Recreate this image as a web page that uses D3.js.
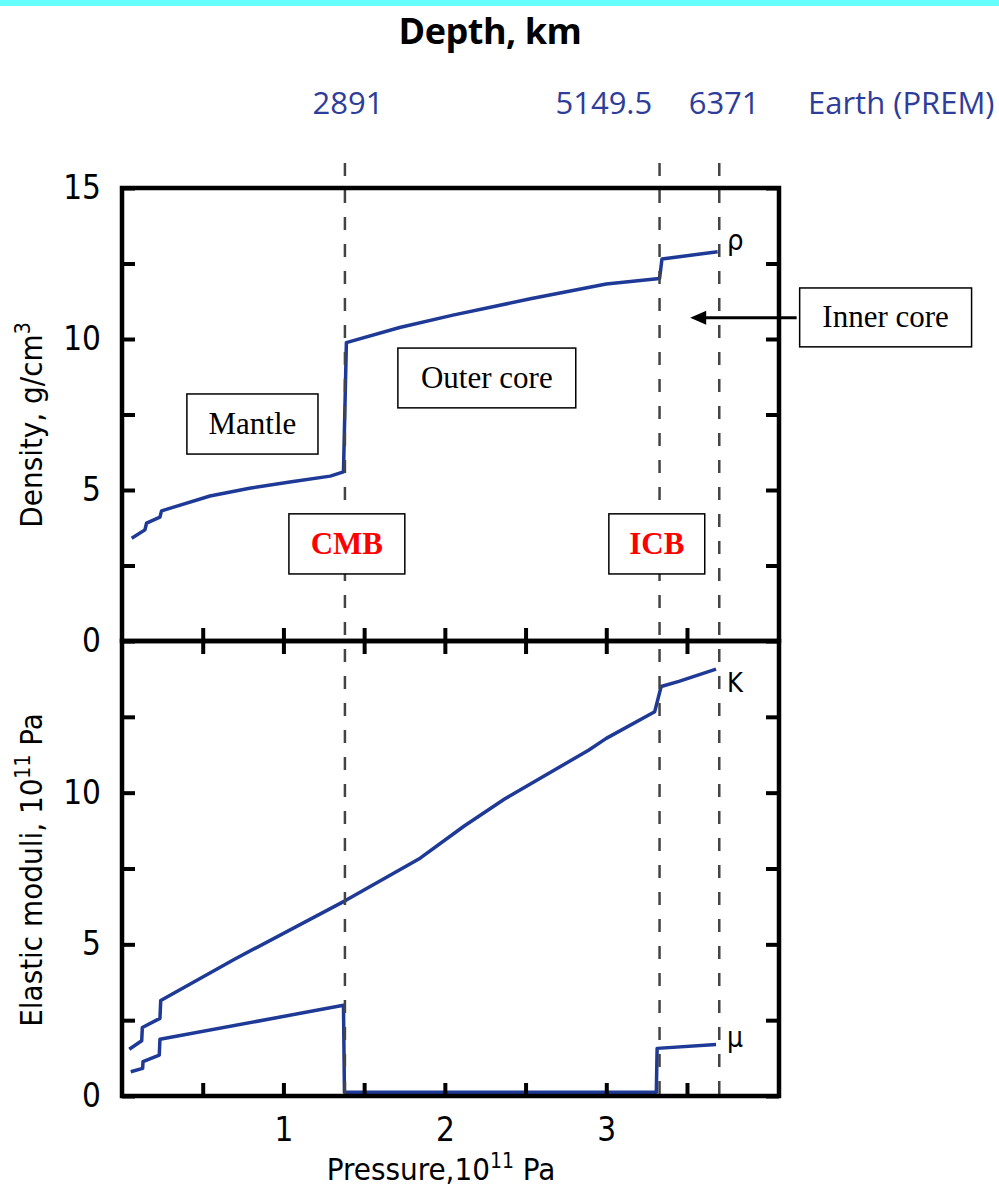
<!DOCTYPE html>
<html>
<head>
<meta charset="utf-8">
<script src="https://cdn.jsdelivr.net/npm/d3@7"></script>
<style>
  html, body { margin: 0; padding: 0; background: #fff; }
  svg { display: block; }
</style>
</head>
<body>
<div id="chart"></div>
<script>
// ---------------- DATA ----------------
// Density (g/cm3) vs pressure (1e11 Pa)
const densityP = [0.06, 0.142, 0.152, 0.235, 0.245, 0.30, 0.545, 0.79, 1.05, 1.29, 1.372, 1.39, 1.72, 2.05, 2.53, 3.0, 3.33, 3.345, 3.69];
const densityV = [3.40, 3.68, 3.90, 4.10, 4.31, 4.40, 4.80, 5.06, 5.27, 5.46, 5.60, 9.88, 10.38, 10.79, 11.33, 11.82, 12.00, 12.65, 12.89];
// Bulk modulus K (1e11 Pa)
const kP = [0.045, 0.122, 0.126, 0.235, 0.240, 0.697, 1.387, 1.847, 2.12, 2.37, 2.89, 3.0, 3.30, 3.34, 3.45, 3.68];
const kV = [1.54, 1.82, 2.26, 2.56, 3.15, 4.51, 6.45, 7.84, 8.90, 9.79, 11.40, 11.79, 12.67, 13.50, 13.67, 14.07];
// Shear modulus mu (1e11 Pa)
const muP = [0.054, 0.128, 0.130, 0.231, 0.235, 1.372, 1.378, 3.31, 3.315, 3.68];
const muV = [0.80, 0.91, 1.13, 1.35, 1.87, 2.99, 0.12, 0.12, 1.57, 1.70];
// Boundaries (pressure) and depth labels
const boundaryP = [1.381, 3.33, 3.70];
const depthLabels = ["2891", "5149.5", "6371"];
const depthLabelP = [1.40, 2.985, 3.73];
const xTickValues = [0.5, 1, 1.5, 2, 2.5, 3, 3.5];
const xTickLabels = [1, 2, 3];
const yTickValuesTop = [0, 2.5, 5, 7.5, 10, 12.5, 15];
const yTickValuesBot = [0, 2.5, 5, 7.5, 10, 12.5];
const yTickLabels = [0, 5, 10, 15];
// annotation boxes in data units [p0, p1, v0, v1]
const boxNames = ["Mantle", "Outer core", "Inner core", "CMB", "ICB"];
const boxExtents = [[0.402, 1.214, 8.18, 6.19], [1.709, 2.811, 9.70, 7.72], [4.198, 5.263, 11.69, 9.74], [1.034, 1.752, 4.21, 2.22], [3.016, 3.610, 4.21, 2.22]];

// ---------------- LAYOUT ----------------
const W = 999, H = 1187;
const svg = d3.select("#chart").append("svg").attr("width", W).attr("height", H);

const x = d3.scaleLinear().domain([0, 4.07]).range([122, 779]);
const yTop = d3.scaleLinear().domain([0, 15]).range([641, 188]);
const yBot = d3.scaleLinear().domain([0, 15]).range([1096, 641]);

const blue = "#1e3a96";
const tickFont = "'DejaVu Sans Condensed', 'DejaVu Sans', sans-serif";
const serif = "'Liberation Serif', 'Times New Roman', serif";
const depthFont = "'Open Sans', sans-serif";

// cyan band
svg.append("rect").attr("x", 0).attr("y", 0).attr("width", W).attr("height", 6).attr("fill", "#66ffff");

// title
svg.append("text").attr("x", 490).attr("y", 44).attr("text-anchor", "middle")
  .attr("font-family", depthFont).attr("font-weight", "bold").attr("font-size", 36)
  .attr("letter-spacing", -0.5).attr("fill", "#000").text("Depth, km");

// depth labels
depthLabels.forEach((t, i) => {
  svg.append("text").attr("x", x(depthLabelP[i])).attr("y", 114).attr("text-anchor", "middle")
    .attr("font-family", depthFont).attr("font-size", 31).attr("fill", "#2e3d99").text(t);
});
svg.append("text").attr("x", 808).attr("y", 114).attr("text-anchor", "start")
  .attr("font-family", depthFont).attr("font-size", 31).attr("fill", "#2e3d99").text("Earth (PREM)");

// ---------------- CURVES ----------------
const toPts = (P, V) => P.map((p, i) => ({ p, v: V[i] }));
const lineTop = d3.line().x(d => x(d.p)).y(d => yTop(d.v));
const lineBot = d3.line().x(d => x(d.p)).y(d => yBot(d.v));

svg.append("path").attr("d", lineTop(toPts(densityP, densityV)))
  .attr("fill", "none").attr("stroke", blue).attr("stroke-width", 3.5).attr("stroke-linejoin", "round");
svg.append("path").attr("d", lineBot(toPts(kP, kV)))
  .attr("fill", "none").attr("stroke", blue).attr("stroke-width", 3.5).attr("stroke-linejoin", "round");
svg.append("path").attr("d", lineBot(toPts(muP, muV)))
  .attr("fill", "none").attr("stroke", blue).attr("stroke-width", 3.5).attr("stroke-linejoin", "round");

// dashed boundaries
boundaryP.forEach(p => {
  svg.append("line").attr("x1", x(p)).attr("x2", x(p)).attr("y1", 163).attr("y2", 1096)
    .attr("stroke", "#444").attr("stroke-width", 2.5).attr("stroke-dasharray", "13,14");
});

// ---------------- AXES ----------------
function styleAxis(g) {
  g.select(".domain").remove();
  g.selectAll(".tick line").attr("stroke", "#000").attr("stroke-width", 4);
  g.selectAll(".tick text").attr("font-family", tickFont).attr("font-size", 33).attr("fill", "#000");
}
const fmtX = d => xTickLabels.includes(d) ? String(d) : "";
const fmtY = d => yTickLabels.includes(d) ? String(d) : "";

// top panel
svg.append("g").attr("transform", `translate(0,${yTop(0)})`)
  .call(d3.axisBottom(x).tickValues(xTickValues).tickSize(-13).tickFormat(""))
  .call(styleAxis);
svg.append("g").attr("transform", `translate(${x(0)},0)`)
  .call(d3.axisLeft(yTop).tickValues(yTickValuesTop).tickSize(-13).tickPadding(21).tickFormat(fmtY))
  .call(styleAxis);
svg.append("g").attr("transform", `translate(${x.range()[1]},0)`)
  .call(d3.axisRight(yTop).tickValues(yTickValuesTop).tickSize(-13).tickFormat(""))
  .call(styleAxis);

// bottom panel
svg.append("g").attr("transform", `translate(0,${yBot(0)})`)
  .call(d3.axisBottom(x).tickValues(xTickValues).tickSize(-13).tickPadding(22).tickFormat(fmtX))
  .call(styleAxis);
svg.append("g").attr("transform", `translate(0,${yBot(15)})`)
  .call(d3.axisTop(x).tickValues(xTickValues).tickSize(-13).tickFormat(""))
  .call(styleAxis);
svg.append("g").attr("transform", `translate(${x(0)},0)`)
  .call(d3.axisLeft(yBot).tickValues(yTickValuesBot).tickSize(-13).tickPadding(21).tickFormat(fmtY))
  .call(styleAxis);
svg.append("g").attr("transform", `translate(${x.range()[1]},0)`)
  .call(d3.axisRight(yBot).tickValues(yTickValuesBot).tickSize(-13).tickFormat(""))
  .call(styleAxis);

// frames
svg.append("rect").attr("x", x(0)).attr("y", yTop(15)).attr("width", x.range()[1] - x(0)).attr("height", yTop(0) - yTop(15))
  .attr("fill", "none").attr("stroke", "#000").attr("stroke-width", 4.5);
svg.append("rect").attr("x", x(0)).attr("y", yBot(15)).attr("width", x.range()[1] - x(0)).attr("height", yBot(0) - yBot(15))
  .attr("fill", "none").attr("stroke", "#000").attr("stroke-width", 4.5);

// axis titles
const xt = svg.append("text").attr("x", 441).attr("y", 1180).attr("text-anchor", "middle")
  .attr("font-family", tickFont).attr("font-size", 31).attr("fill", "#000");
xt.append("tspan").text("Pressure,10");
xt.append("tspan").attr("font-size", 21).attr("dy", -12).text("11");
xt.append("tspan").attr("dy", 12).text(" Pa");

const yt1 = svg.append("text").attr("transform", "translate(42,425) rotate(-90)").attr("text-anchor", "middle")
  .attr("font-family", tickFont).attr("font-size", 31).attr("fill", "#000");
yt1.append("tspan").text("Density, g/cm");
yt1.append("tspan").attr("font-size", 21).attr("dy", -12).text("3");

const yt2 = svg.append("text").attr("transform", "translate(42,870) rotate(-90)").attr("text-anchor", "middle")
  .attr("font-family", tickFont).attr("font-size", 31).attr("fill", "#000");
yt2.append("tspan").text("Elastic moduli, 10");
yt2.append("tspan").attr("font-size", 21).attr("dy", -12).text("11");
yt2.append("tspan").attr("dy", 12).text(" Pa");

// curve labels
svg.append("text").attr("x", 727).attr("y", 250).attr("font-family", tickFont).attr("font-size", 29).attr("fill", "#000").text("ρ");
svg.append("text").attr("x", 727).attr("y", 692).attr("font-family", tickFont).attr("font-size", 27).attr("fill", "#000").text("K");
svg.append("text").attr("x", 727).attr("y", 1047).attr("font-family", tickFont).attr("font-size", 28).attr("fill", "#000").text("μ");

// ---------------- ANNOTATIONS ----------------
boxNames.forEach((name, i) => {
  const [p0, p1, v0, v1] = boxExtents[i];
  const bx = x(p0), by = yTop(v0), bw = x(p1) - x(p0), bh = yTop(v1) - yTop(v0);
  svg.append("rect").attr("x", bx).attr("y", by).attr("width", bw).attr("height", bh)
    .attr("fill", "#fff").attr("stroke", "#000").attr("stroke-width", 1.5);
  const red = (name === "CMB" || name === "ICB");
  svg.append("text").attr("x", bx + bw / 2).attr("y", by + bh / 2 + 10).attr("text-anchor", "middle")
    .attr("font-family", serif).attr("font-size", 31)
    .attr("font-weight", red ? "bold" : "normal").attr("fill", red ? "#ff0000" : "#000").text(name);
});

// arrow from Inner core box
const arrowY = yTop(10.70);
const ax0 = x(4.198) - 3, ax1 = x(3.52);
svg.append("line").attr("x1", ax0).attr("x2", ax1 + 12).attr("y1", arrowY).attr("y2", arrowY)
  .attr("stroke", "#000").attr("stroke-width", 3);
svg.append("path").attr("d", `M${ax1},${arrowY} L${ax1 + 16},${arrowY - 7} L${ax1 + 16},${arrowY + 7} Z`).attr("fill", "#000");
</script>
</body>
</html>
